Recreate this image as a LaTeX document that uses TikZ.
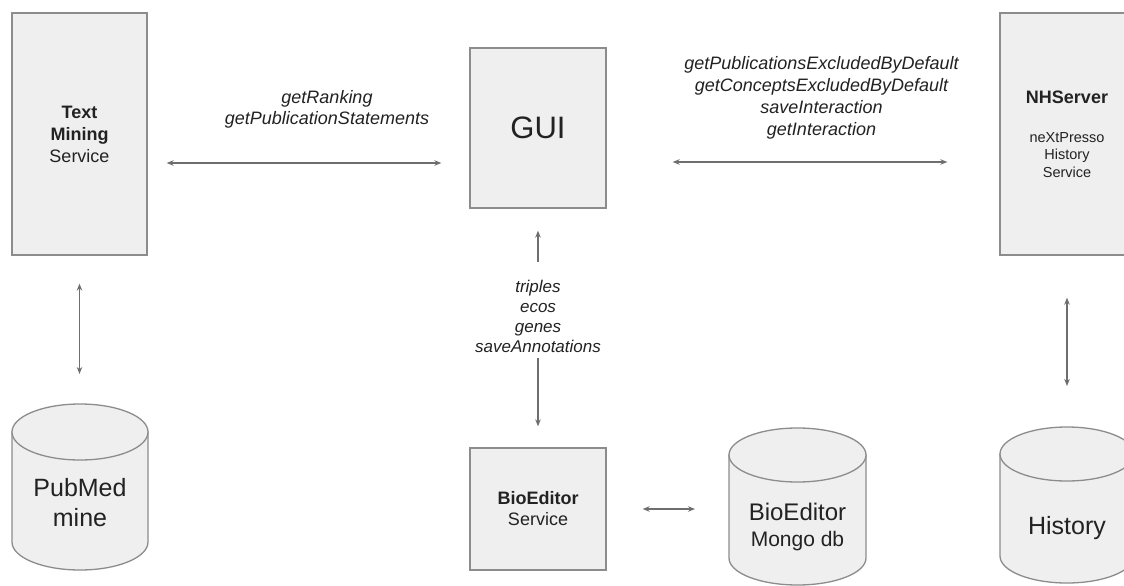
\documentclass[tikz,border=0pt]{standalone}
\usepackage{fontspec}
\setmainfont{Liberation Sans}
\usetikzlibrary{arrows.meta}
\definecolor{boxfill}{HTML}{EFEFEF}
\definecolor{boxline}{HTML}{8C8C8C}
\definecolor{arrline}{HTML}{6E6E6E}
\definecolor{txt}{HTML}{222222}
\newcommand{\dbcyl}[5]{%
  \path[cylstyle] ({#1-#2},#3) -- ({#1-#2},#4)
    arc[start angle=180,end angle=0,x radius=#2,y radius=#5] -- ({#1+#2},#3) -- cycle;
  \path[cylstyle] (#1,#3) ellipse[x radius=#2,y radius=#5];
}
\begin{document}
\begin{tikzpicture}[x=1pt,y=-1pt,
  box/.style={draw=boxline,fill=boxfill,line width=1.3pt,inner sep=0pt,
    text=txt,align=center},
  cylstyle/.style={draw=boxline,fill=boxfill,line width=1.3pt},
  lbl/.style={text=txt,align=center,inner sep=0pt,font=\itshape\fontsize{18}{22}\selectfont},
  dbtext/.style={text=txt,align=center,inner sep=0pt},
  arr/.style={draw=arrline,line width=1.2pt,
    {Stealth[length=7pt,width=5.5pt]}-{Stealth[length=7pt,width=5.5pt]}},
  arrone/.style={draw=arrline,line width=1.2pt,-{Stealth[length=7pt,width=5.5pt]}}]
\useasboundingbox (0,0) rectangle (1124,586);
\clip (0,0) rectangle (1124,586);
\fill[white] (0,0) rectangle (1124,586);

% boxes
\node[box,minimum width=135pt,minimum height=242pt,
  font=\fontsize{18}{22}\selectfont] (tm) at (79.5,134)
  {\textbf{Text}\\\textbf{Mining}\\Service};
\node[box,minimum width=136pt,minimum height=160pt,
  font=\fontsize{31}{36}\selectfont] (gui) at (538,128) {GUI};
\node[box,minimum width=134pt,minimum height=242pt] (nh) at (1067,134) {};
\node[text=txt,inner sep=0pt,font=\bfseries\fontsize{18}{22}\selectfont] (nht) at (1067,97) {NHServer};
\node[dbtext,font=\fontsize{14.5}{17.5}\selectfont] (nhs) at (1067,155)
  {neXtPresso\\History\\Service};
\node[box,minimum width=136pt,minimum height=122pt,
  font=\fontsize{18}{21}\selectfont] (bio) at (538,509)
  {\textbf{BioEditor}\\Service};

% cylinders
\dbcyl{80}{68}{432}{542}{28}
\dbcyl{797.5}{68.5}{455}{558}{27}
\dbcyl{1067}{67}{454}{556}{27}
\coordinate (pmtop) at (80,404);
\coordinate (mgw) at (729,509);
\coordinate (histop) at (1067,427);
\node[dbtext,font=\fontsize{25}{30}\selectfont] (pm) at (80,503) {PubMed\\mine};
\node[dbtext,font=\fontsize{21}{25.5}\selectfont] (mg) at (797.5,527)
  {{\fontsize{24}{25.5}\selectfont BioEditor}\\Mongo db};
\node[dbtext,font=\fontsize{25}{30}\selectfont] (hist) at (1067,528) {History};

% labels
\node[lbl,font=\itshape\fontsize{18}{21}\selectfont] (l1) at (327,109.5)
  {getRanking\\getPublicationStatements};
\node[lbl] (l2) at (821.5,97.5)
  {getPublicationsExcludedByDefault\\getConceptsExcludedByDefault\\saveInteraction\\getInteraction};
\node[lbl,font=\itshape\fontsize{17}{20}\selectfont] (l3) at (538,316)
  {triples\\ecos\\genes\\saveAnnotations};

% connectors
\draw[arr] ([xshift=19pt,yshift=-29pt]tm.east) -- ([xshift=-28pt,yshift=-35pt]gui.west);
\draw[arr] ([xshift=66pt,yshift=-34pt]gui.east) -- ([xshift=-52pt,yshift=-28pt]nh.west);
\draw[arr,shorten <=28pt,shorten >=30pt] (tm.south) -- (tm.south |- pmtop);
\draw[arr,shorten <=42pt,shorten >=41pt] (nh.south) -- (nh.south |- histop);
\coordinate (gu1) at (538,262);
\coordinate (gd1) at (538,358);
\draw[arrone] (gu1) -- ([yshift=-22pt]gui.south);
\draw[arrone] (gd1) -- ([yshift=21pt]bio.north);
\draw[arr] ([xshift=36pt]bio.east) -- ([xshift=-34pt]mgw);
\end{tikzpicture}
\end{document}
